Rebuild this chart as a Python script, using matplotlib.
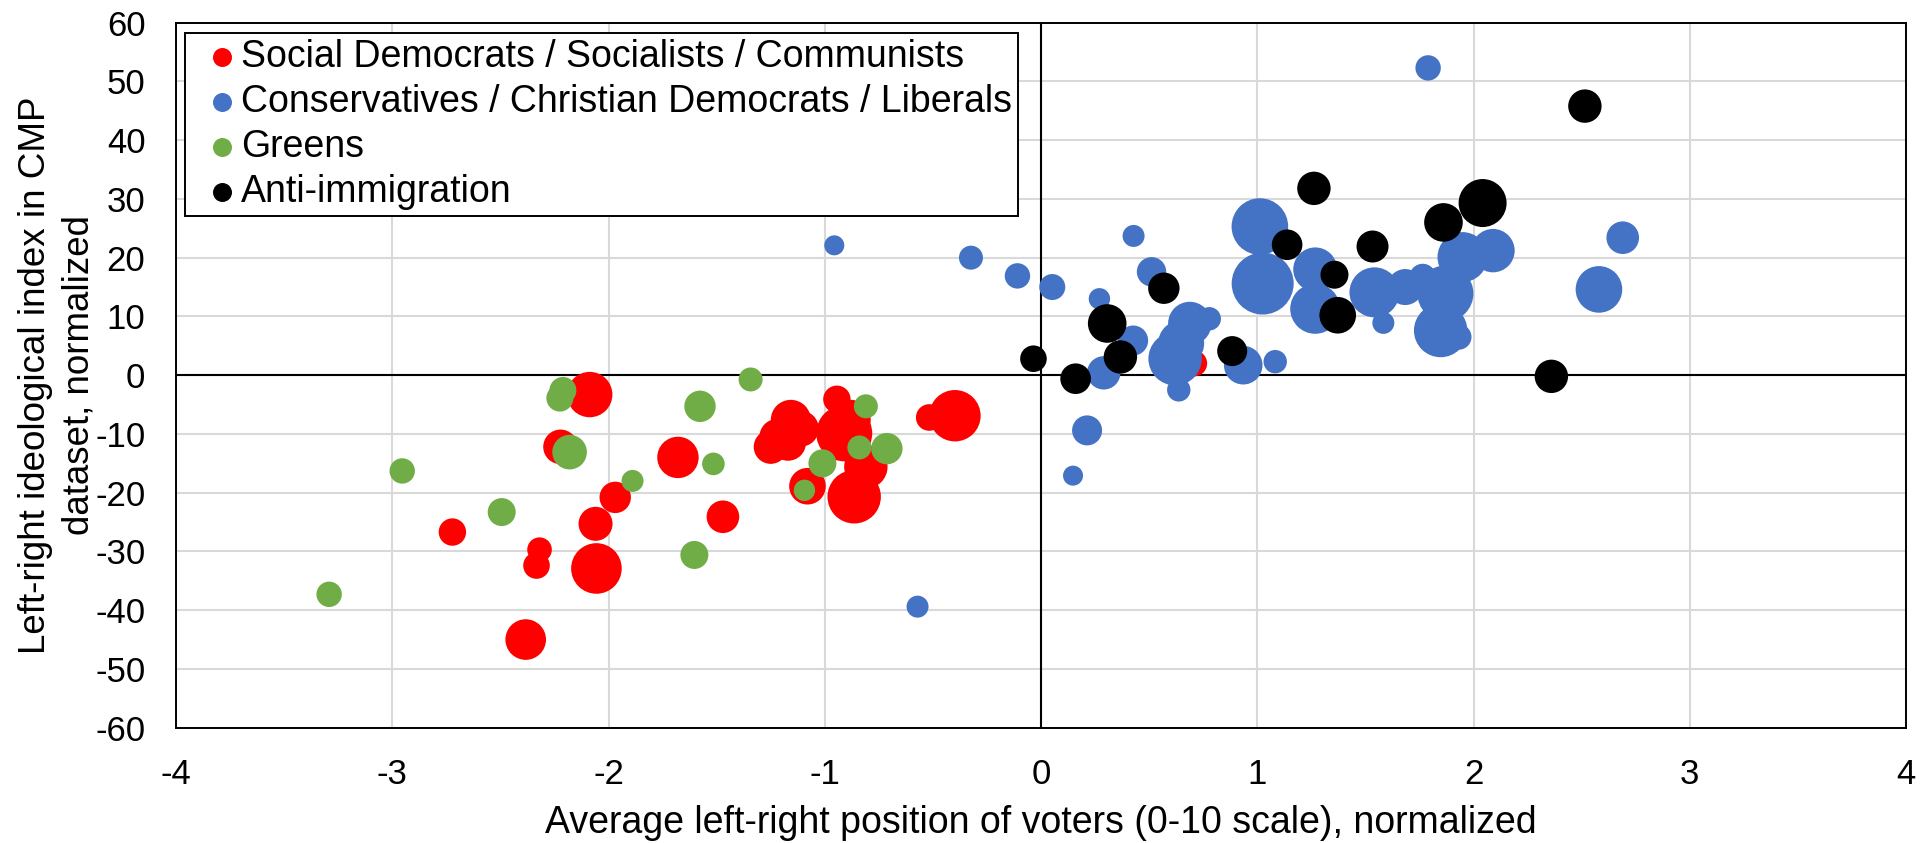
import numpy as np
import matplotlib
matplotlib.use("Agg")
import matplotlib.pyplot as plt

plt.rcParams['font.family'] = ['Liberation Sans', 'DejaVu Sans']
plt.rcParams['axes.unicode_minus'] = False

# Social Democrats / Socialists / Communists
red_x = [-2.087, -2.222, -1.679, -1.969, -1.471, -2.722, -2.06, -2.319, -2.333, -2.056,
         -2.383, -0.944, -0.517, -0.398, -1.157, -1.111, -1.219, -1.25, -1.17, -0.91,
         -0.81, -0.864, -1.08, -0.88, 0.708]
red_y = [-3.3, -12.2, -14.0, -20.8, -24.1, -26.7, -25.3, -29.7, -32.4, -32.9,
         -45.0, -4.1, -7.2, -6.9, -7.6, -9.1, -10.5, -12.2, -11.5, -9.9,
         -15.6, -20.7, -18.9, -7.6, 2.0]
red_r = [22.7, 17.3, 20.7, 15.7, 16.3, 13.7, 17, 12.3, 13.3, 25.3,
         20.3, 13.7, 13.3, 25.7, 20, 18, 18, 17, 18, 28,
         21.7, 26.7, 18.3, 20, 13]

# Conservatives / Christian Democrats / Liberals
blue_x = [-0.956, -0.324, -0.109, 0.052, 0.428, 0.511, 0.270, 0.426, 0.29, 0.213,
          0.148, -0.571, 0.688, 0.778, 0.62, 0.648, 0.637, 0.935, 1.083, 1.012,
          1.025, 1.268, 1.268, 1.542, 1.583, 1.684, 1.765, 1.87, 1.848, 1.932,
          1.949, 2.09, 2.58, 2.69, 1.79]
blue_y = [22.1, 20.0, 16.9, 15.0, 23.7, 17.6, 13.0, 5.9, 0.4, -9.4,
          -17.1, -39.4, 8.8, 9.6, 2.8, 5.4, -2.5, 1.7, 2.3, 25.3,
          15.6, 18.0, 11.3, 14.1, 8.9, 15.0, 16.7, 13.9, 7.6, 6.5,
          20.1, 21.2, 14.6, 23.4, 52.3]
blue_r = [10, 12, 12.7, 13, 11, 14.7, 10.7, 15, 16.7, 15,
          10, 11, 21.7, 11.7, 26.7, 23, 11.7, 19.3, 11.7, 28.3,
          31, 22, 25, 25, 11, 18, 13.3, 28, 26.7, 12.7,
          25, 21.7, 23.3, 16.3, 12.7]

# Greens
green_x = [-1.343, -1.577, -1.515, -1.889, -1.603, -0.81, -1.094, -1.011, -0.84, -0.713,
           -2.211, -2.225, -2.18, -2.954, -2.494, -3.292]
green_y = [-0.73, -5.3, -15.1, -18.0, -30.6, -5.3, -19.6, -15.0, -12.3, -12.5,
           -2.6, -3.9, -13.1, -16.3, -23.3, -37.3]
green_r = [12, 15.7, 11.3, 11, 14, 12, 10.7, 14, 12, 15.7,
           13.5, 13.5, 17.3, 12.7, 14, 12.7]

# Anti-immigration
black_x = [-0.035, 0.568, 0.306, 0.367, 0.160, 0.884, 1.138, 1.262, 1.357, 1.372,
           1.533, 1.861, 2.042, 2.36, 2.515]
black_y = [2.8, 14.8, 8.8, 3.1, -0.6, 4.1, 22.2, 31.8, 17.1, 10.2,
           21.9, 26.0, 29.3, -0.2, 45.8]
black_r = [13.3, 15.7, 19.3, 16.7, 15.3, 15, 15.3, 16.7, 14, 18.3,
           16, 19.3, 24, 16.7, 16.7]

labels = ["Social Democrats / Socialists / Communists",
          "Conservatives / Christian Democrats / Liberals",
          "Greens",
          "Anti-immigration"]
colors = ["#FF0000", "#4472C4", "#70AD47", "#000000"]

fig = plt.figure(figsize=(19.28, 8.43), dpi=100)
ax = fig.add_axes([0.0913, 0.1368, 0.8973, 0.8363])

series = [(red_x, red_y, red_r), (blue_x, blue_y, blue_r),
          (green_x, green_y, green_r), (black_x, black_y, black_r)]
for (xs, ys, rs), c, lab in zip(series, colors, labels):
    s = (1.44 * np.array(rs)) ** 2
    ax.scatter(xs, ys, s=s, c=c, linewidths=0, label=lab, zorder=3)

ax.set_xlim(-4, 4)
ax.set_ylim(-60, 60)
ax.set_xticks(range(-4, 5))
ax.set_yticks(range(-60, 61, 10))
ax.grid(True, color="#D9D9D9", linewidth=1.5, zorder=0)
ax.axhline(0, color="black", linewidth=1.5, zorder=2)
ax.axvline(0, color="black", linewidth=1.5, zorder=2)
for sp in ax.spines.values():
    sp.set_color("black")
    sp.set_linewidth(1.4)
ax.tick_params(axis="x", length=0, labelsize=25, pad=22)
ax.tick_params(axis="y", length=0, labelsize=25, pad=22)

ax.set_xlabel("Average left-right position of voters (0-10 scale), normalized", fontsize=27, labelpad=10)
ax.set_ylabel("Left-right ideological index in CMP\ndataset, normalized", fontsize=26.5,
              linespacing=1.3)
ax.yaxis.set_label_coords(-0.0462, 0.5)

leg = ax.legend(loc="upper left", bbox_to_anchor=(0.005, 0.986), fontsize=27, frameon=True,
                fancybox=False, edgecolor="black", borderpad=0.17, labelspacing=0.24,
                handlelength=1.65, handletextpad=-0.32, borderaxespad=0, framealpha=1)
leg.get_frame().set_linewidth(1.4)
for h in leg.legend_handles:
    h.set_sizes([187])

fig.savefig("out.png", dpi=100)
